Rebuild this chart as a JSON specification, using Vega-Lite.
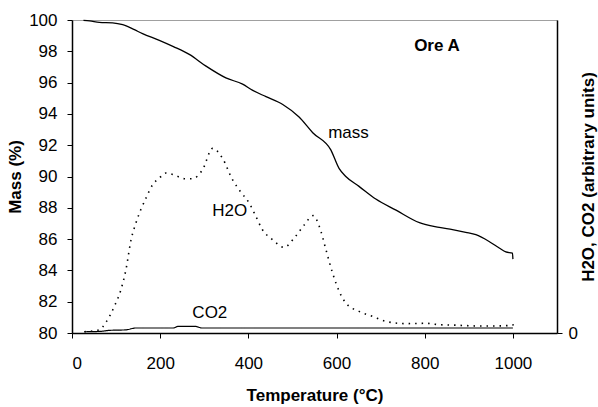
{
  "$schema": "https://vega.github.io/schema/vega-lite/v6.json",
  "width": 485,
  "height": 313,
  "autosize": {"type": "none"},
  "padding": {"left": 72, "top": 20, "right": 41, "bottom": 74},
  "background": "white",
  "config": {
    "view": {"stroke": "#a0a0a0", "strokeWidth": 1},
    "font": "Liberation Sans",
    "axis": {
      "grid": false,
      "labelFont": "Liberation Sans",
      "labelFontSize": 17,
      "labelColor": "black",
      "labelOverlap": false,
      "titleFont": "Liberation Sans",
      "titleFontSize": 17,
      "titleFontWeight": "bold",
      "titleColor": "black",
      "domainColor": "black",
      "tickColor": "black",
      "tickSize": 5,
      "domainWidth": 1.5,
      "tickWidth": 1
    }
  },
  "datasets": {
    "mass": [
      {"T": 26, "v": 99.98}, {"T": 40, "v": 99.95}, {"T": 62, "v": 99.85}, {"T": 92, "v": 99.82},
      {"T": 115, "v": 99.7}, {"T": 140, "v": 99.4}, {"T": 160, "v": 99.13}, {"T": 198, "v": 98.7},
      {"T": 230, "v": 98.3}, {"T": 266, "v": 97.8}, {"T": 304, "v": 97.05}, {"T": 349, "v": 96.3},
      {"T": 387, "v": 95.9}, {"T": 410, "v": 95.5}, {"T": 440, "v": 95.1}, {"T": 478, "v": 94.6},
      {"T": 515, "v": 93.8}, {"T": 546, "v": 92.8}, {"T": 587, "v": 91.7}, {"T": 606, "v": 90.5},
      {"T": 621, "v": 90.0}, {"T": 651, "v": 89.37}, {"T": 689, "v": 88.56}, {"T": 735, "v": 87.85},
      {"T": 788, "v": 87.05}, {"T": 833, "v": 86.75}, {"T": 863, "v": 86.6}, {"T": 893, "v": 86.43},
      {"T": 916, "v": 86.28}, {"T": 946, "v": 85.85}, {"T": 969, "v": 85.43}, {"T": 984, "v": 85.18},
      {"T": 999, "v": 85.1}, {"T": 1000, "v": 84.72}
    ],
    "gas": [
      {"series": "H2O", "T": 28, "g": 0.08}, {"series": "H2O", "T": 62, "g": 0.2},
      {"series": "H2O", "T": 77, "g": 0.68}, {"series": "H2O", "T": 96, "g": 1.7},
      {"series": "H2O", "T": 111, "g": 2.77}, {"series": "H2O", "T": 122, "g": 4.0},
      {"series": "H2O", "T": 134, "g": 5.96}, {"series": "H2O", "T": 145, "g": 7.03},
      {"series": "H2O", "T": 156, "g": 7.88}, {"series": "H2O", "T": 168, "g": 8.63},
      {"series": "H2O", "T": 183, "g": 9.48}, {"series": "H2O", "T": 198, "g": 9.9},
      {"series": "H2O", "T": 213, "g": 10.22}, {"series": "H2O", "T": 232, "g": 10.1},
      {"series": "H2O", "T": 255, "g": 9.86}, {"series": "H2O", "T": 273, "g": 9.86},
      {"series": "H2O", "T": 296, "g": 10.43}, {"series": "H2O", "T": 319, "g": 11.8},
      {"series": "H2O", "T": 341, "g": 11.18}, {"series": "H2O", "T": 364, "g": 9.8},
      {"series": "H2O", "T": 383, "g": 9.0}, {"series": "H2O", "T": 402, "g": 8.3},
      {"series": "H2O", "T": 417, "g": 7.45}, {"series": "H2O", "T": 432, "g": 6.6},
      {"series": "H2O", "T": 455, "g": 5.96}, {"series": "H2O", "T": 481, "g": 5.47},
      {"series": "H2O", "T": 504, "g": 6.07}, {"series": "H2O", "T": 527, "g": 6.92},
      {"series": "H2O", "T": 547, "g": 7.5}, {"series": "H2O", "T": 561, "g": 6.8},
      {"series": "H2O", "T": 576, "g": 5.32}, {"series": "H2O", "T": 591, "g": 3.83},
      {"series": "H2O", "T": 606, "g": 2.66}, {"series": "H2O", "T": 621, "g": 1.92},
      {"series": "H2O", "T": 651, "g": 1.38}, {"series": "H2O", "T": 682, "g": 1.06},
      {"series": "H2O", "T": 712, "g": 0.74}, {"series": "H2O", "T": 757, "g": 0.6},
      {"series": "H2O", "T": 803, "g": 0.62}, {"series": "H2O", "T": 833, "g": 0.53},
      {"series": "H2O", "T": 870, "g": 0.5}, {"series": "H2O", "T": 920, "g": 0.45},
      {"series": "H2O", "T": 960, "g": 0.45}, {"series": "H2O", "T": 1000, "g": 0.5},
      {"series": "H2O", "T": 1001, "g": 0.64},
      {"series": "CO2", "T": 28, "g": 0.08}, {"series": "CO2", "T": 62, "g": 0.1},
      {"series": "CO2", "T": 86, "g": 0.17}, {"series": "CO2", "T": 122, "g": 0.2},
      {"series": "CO2", "T": 145, "g": 0.32}, {"series": "CO2", "T": 230, "g": 0.32},
      {"series": "CO2", "T": 240, "g": 0.42}, {"series": "CO2", "T": 280, "g": 0.42},
      {"series": "CO2", "T": 295, "g": 0.32}, {"series": "CO2", "T": 600, "g": 0.32},
      {"series": "CO2", "T": 1000, "g": 0.32}
    ],
    "labels": [
      {"label": "mass", "T": 581, "v": 92.8},
      {"label": "H2O", "T": 318, "v": 87.77},
      {"label": "CO2", "T": 273, "v": 81.3}
    ],
    "boldlabels": [
      {"label": "Ore A", "T": 776, "v": 98.31}
    ]
  },
  "encoding": {
    "x": {"field": "T", "type": "quantitative",
      "scale": {"domain": [0, 1100], "nice": false, "zero": false},
      "axis": {"values": [0, 200, 400, 600, 800, 1000], "format": "d", "title": "Temperature (°C)", "labelPadding": 17, "titlePadding": 16, "labelOverlap": false}}
  },
  "layer": [
    {
      "encoding": {
        "y": {"field": "v", "type": "quantitative",
          "scale": {"domain": [80, 100], "nice": false, "zero": false},
          "axis": {"orient": "left", "values": [80, 82, 84, 86, 88, 90, 92, 94, 96, 98, 100], "title": "Mass (%)", "labelPadding": 10, "titlePadding": 4, "labelOverlap": false}}
      },
      "layer": [
        {
          "data": {"name": "mass"},
          "mark": {"type": "line", "color": "black", "strokeWidth": 1.3, "interpolate": "monotone"}
        },
        {
          "data": {"name": "labels"},
          "mark": {"type": "text", "align": "left", "baseline": "middle", "fontSize": 17, "font": "Liberation Sans", "color": "black"},
          "encoding": {"text": {"field": "label"}}
        },
        {
          "data": {"name": "boldlabels"},
          "mark": {"type": "text", "align": "left", "baseline": "middle", "fontSize": 17, "fontWeight": "bold", "font": "Liberation Sans", "color": "black"},
          "encoding": {"text": {"field": "label"}}
        }
      ]
    },
    {
      "data": {"name": "gas"},
      "mark": {"type": "line", "color": "black", "interpolate": "monotone"},
      "encoding": {
        "y": {"field": "g", "type": "quantitative",
          "scale": {"domain": [0, 20], "nice": false, "zero": false},
          "axis": {"orient": "right", "values": [0], "title": "H2O, CO2 (arbitrary units)", "titleAngle": 270, "labelPadding": 6, "titlePadding": 20}},
        "detail": {"field": "series"},
        "strokeDash": {"field": "series", "type": "nominal",
          "scale": {"domain": ["H2O", "CO2"], "range": [[1.5, 5], [1, 0]]}, "legend": null},
        "strokeWidth": {"field": "series", "type": "nominal",
          "scale": {"domain": ["H2O", "CO2"], "range": [1.6, 1.2]}, "legend": null}
      }
    }
  ],
  "resolve": {"scale": {"y": "independent"}}
}
